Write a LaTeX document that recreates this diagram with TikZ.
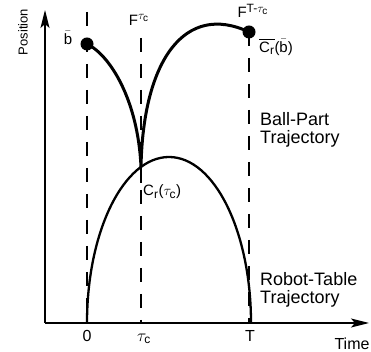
\documentclass[tikz,border=0pt]{standalone}
\usepackage{fontspec}
\setmainfont{Liberation Sans}
\usepackage{amsmath}
\DeclareMathSizes{15}{15}{12}{10}
\DeclareMathSizes{16}{16}{12}{10}
\usetikzlibrary{arrows.meta}

\begin{document}
\begin{tikzpicture}[
  x=1pt, y=1pt,
  font=\fontsize{16}{16}\selectfont,
  axis/.style={-{Stealth[length=18pt, width=9pt, inset=4pt]}, line width=1.6pt},
  guide/.style={line width=1.8pt, dash pattern=on 14pt off 12pt},
  ballpath/.style={line width=3pt},
  tablepath/.style={line width=2.3pt},
  ball/.style={circle, fill=black, inner sep=0pt, minimum size=13pt},
  ticklabel/.style={font=\fontsize{16}{16}\selectfont},
  curvelabel/.style={font=\fontsize{15}{15}\selectfont, inner sep=0pt},
  legend/.style={font=\fontsize{18}{18}\selectfont, align=left, inner sep=0pt},
]
\useasboundingbox (0,0) rectangle (371,352);

\coordinate (origin) at (45,29);
\coordinate (xend) at (369,29);
\coordinate (yend) at (45,342);
\coordinate (t0) at (87,29);
\coordinate (tc) at (141,29);
\coordinate (tT) at (249,29);
\coordinate (top0) at (87,340);
\coordinate (topc) at (141,314);
\coordinate (cusp) at (141,185);
\coordinate (cusplow) at (141,169);
\coordinate (guidelow) at (141,162);

\node[ball] (b) at (87,308) {};
\node[ball] (fb) at (249,320) {};

\draw[axis] (origin) -- (xend);
\draw[axis] (origin) -- (yend);

\draw[guide] (top0) -- (t0);
\draw[guide] (topc) -- (cusp);
\draw[line width=1.8pt] (cusp) -- (cusplow);
\draw[guide] (guidelow) -- (tc);
\draw[guide] (fb.center) -- (tT);

\draw[ballpath] (b.center) .. controls (110,297) and (138,252) .. (cusp)
  .. controls (143,292) and (185,350) .. (fb.center);
\draw[tablepath] (t0) arc[start angle=180, end angle=0, x radius=82, y radius=166];

\node[curvelabel] (lblb) at (68,314) {$\bar{\text{b}}$};
\node[curvelabel] (lblfc) at (139,332) {F$^{\tau_\text{c}}$};
\node[curvelabel] (lblft) at (253,341) {F$^{\text{T-}\tau_\text{c}}$};
\node[curvelabel] (lblcb) at (276,305) {$\overline{\text{C}_\text{r}}$($\bar{\text{b}}$)};
\node[curvelabel, anchor=west] (lblct) at (143,160) {C$_\text{r}$($\tau_\text{c}$)};

\node[legend, anchor=north west] (ballleg) at (260,240) {Ball-Part\\Trajectory};
\node[legend, anchor=north west] (tableleg) at (260,80) {Robot-Table\\Trajectory};

\node[ticklabel] (lbl0) at (87,16) {0};
\node[ticklabel] (lbltc) at (144,13) {$\tau_\text{c}$};
\node[ticklabel] (lblT) at (250,16) {T};
\node[ticklabel] (lbltime) at (352,8) {Time};
\node[rotate=90, font=\fontsize{13}{13}\selectfont] (lblpos) at (23,320) {Position};

\end{tikzpicture}
\end{document}
